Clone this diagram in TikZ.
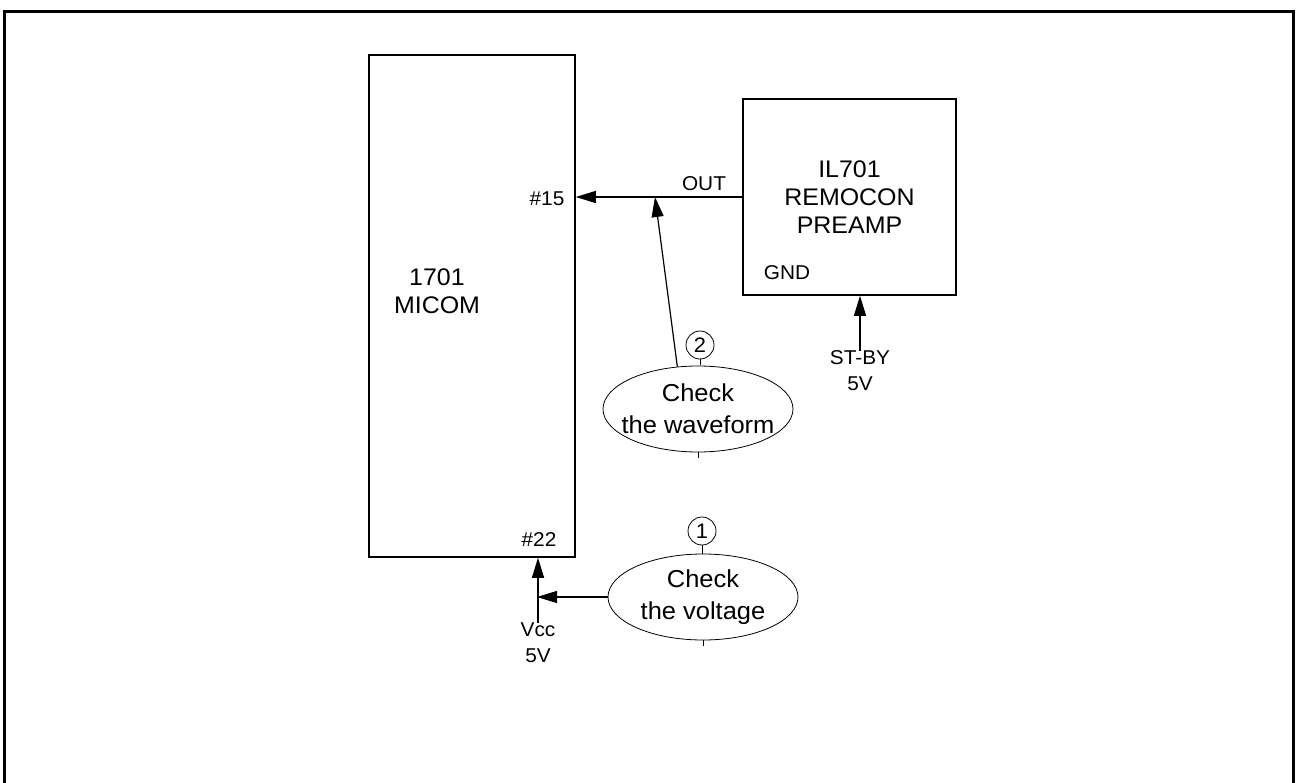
\documentclass[tikz,border=0pt]{standalone}
\usepackage{fontspec}
\setmainfont{Liberation Sans}[FakeStretch=1.04]
\usetikzlibrary{arrows.meta,positioning,shapes.geometric}

\begin{document}
\begin{tikzpicture}[x=1pt,y=-1pt,
  blk/.style={draw,line width=1.6pt,inner sep=0pt},
  lab/.style={font=\fontsize{20}{26}\selectfont,align=center,inner sep=0pt},
  big/.style={font=\fontsize{24}{28}\selectfont,align=center,inner sep=0pt},
  bubble/.style={draw,ellipse,line width=0.8pt,minimum width=190pt,minimum height=86pt,
    inner sep=0pt},
  btxt/.style={font=\fontsize{24.5}{32}\selectfont,align=center,inner sep=0pt},
  num/.style={draw,circle,line width=0.8pt,minimum size=28pt,inner sep=0pt,
    font=\fontsize{21}{21}\selectfont},
  arr/.style={line width=1.2pt,-{Triangle[length=20pt,width=12pt]}},
  tick/.style={line width=0.8pt}
]
\useasboundingbox (0,0) rectangle (1297,783);
\clip (0,0) rectangle (1297,783);
% frame
\draw[line width=3pt] (4,800) -- (4,12) -- (1293,12) -- (1293,800);

% blocks
\node[blk,minimum width=206pt,minimum height=502pt] (micom) at (472,306) {};
\node[big] (micomtxt) at (437,291) {1701\\MICOM};
\node[blk,big,minimum width=213pt,minimum height=196pt] (pre) at (849.5,197)
  {IL701\\REMOCON\\PREAMP};

% pin labels
\node[lab] (p15) at (547,199) {\#15};
\node[lab] (p22) at (539,540) {\#22};
\node[lab] (out) at (704,184) {OUT};
\node[lab] (gnd) at (787,273) {GND};
\node[lab] (stby) at (860,371) {ST-BY\\5V};
\node[lab] (vcc) at (538,643) {Vcc\\5V};

% check points
\node[bubble] (wave) at (698,409) {};
\node[btxt] (wavetxt) at (wave) {Check\\the waveform};
\node[num] (n2) at (700,345) {2};
\node[bubble] (volt) at (703,597) {};
\node[btxt] (volttxt) at (volt) {Check\\the voltage};
\node[num] (n1) at (702,531) {1};
\draw[tick] (n2.south) -- ++(0,6);
\draw[tick] (wave.south) -- ++(0,6);
\draw[tick] (n1.south) -- (n1.south |- volt.north);
\draw[tick] (volt.south) -- ++(0,6);

% signals
\coordinate (j) at (655,197);
\draw[arr] (pre.west) -- (pre.west -| micom.east);
\draw[arr] (wave.116) -- (j);
\draw[arr] (stby.north) -- (stby.north |- pre.south);
\draw[arr] (vcc.north) -- (vcc.north |- micom.south);
\draw[arr,shorten >=-1pt] (volt.west) -- (volt.west -| vcc.north);
\end{tikzpicture}
\end{document}
